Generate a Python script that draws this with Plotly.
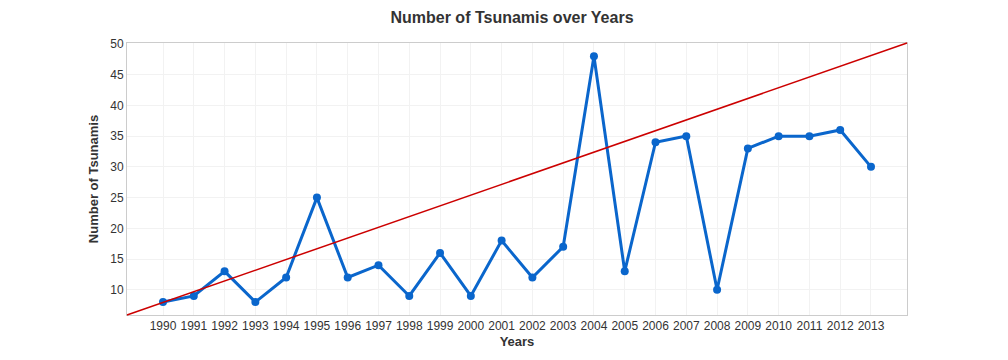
import plotly.graph_objects as go

years = list(range(1990, 2014))
tsunamis = [8, 9, 13, 8, 12, 25, 12, 14, 9, 16, 9, 18, 12, 17, 48, 13, 34, 35, 10, 33, 35, 35, 36, 30]
x_ticks = years
y_ticks = [10, 15, 20, 25, 30, 35, 40, 45, 50]

fig = go.Figure()
fig.add_trace(go.Scatter(
    x=years, y=tsunamis, mode="lines+markers",
    line=dict(color="#0a66cc", width=3),
    marker=dict(color="#0a66cc", size=8),
    showlegend=False,
))
fig.add_shape(type="line", xref="paper", yref="paper", x0=0, y0=0, x1=1, y1=1,
              line=dict(color="#cc0000", width=1.5))

font_family = "Liberation Sans, Arial, sans-serif"
fig.update_layout(
    width=1008, height=360,
    margin=dict(l=119, r=109, t=35, b=53),
    paper_bgcolor="white", plot_bgcolor="white",
    font=dict(family=font_family, size=12, color="#333333"),
    title=dict(text="<b>Number of Tsunamis over Years</b>", x=0.5, xanchor="center",
               y=0.99, yanchor="top", pad=dict(t=0), font=dict(size=16, color="#333333")),
)
fig.update_xaxes(
    range=[1988.83, 2014.17], tickmode="array", tickvals=x_ticks,
    ticktext=[str(v) for v in x_ticks],
    showgrid=True, gridcolor="#f2f2f2", gridwidth=1,
    showline=True, linecolor="#cccccc", linewidth=1, mirror=True,
    zeroline=False, ticks="", tickfont=dict(size=12, color="#333333"),
    title=dict(text="<b>Years</b>", font=dict(size=13, color="#333333"), standoff=4),
)
fig.update_yaxes(
    range=[5.9, 50.15], tickmode="array", tickvals=y_ticks,
    showgrid=True, gridcolor="#f2f2f2", gridwidth=1,
    showline=True, linecolor="#cccccc", linewidth=1, mirror=True,
    zeroline=False, ticks="", tickfont=dict(size=12, color="#333333"),
    title=dict(text="<b>Number of Tsunamis</b>", font=dict(size=13, color="#333333"), standoff=8),
)
fig.write_html("out.html")
